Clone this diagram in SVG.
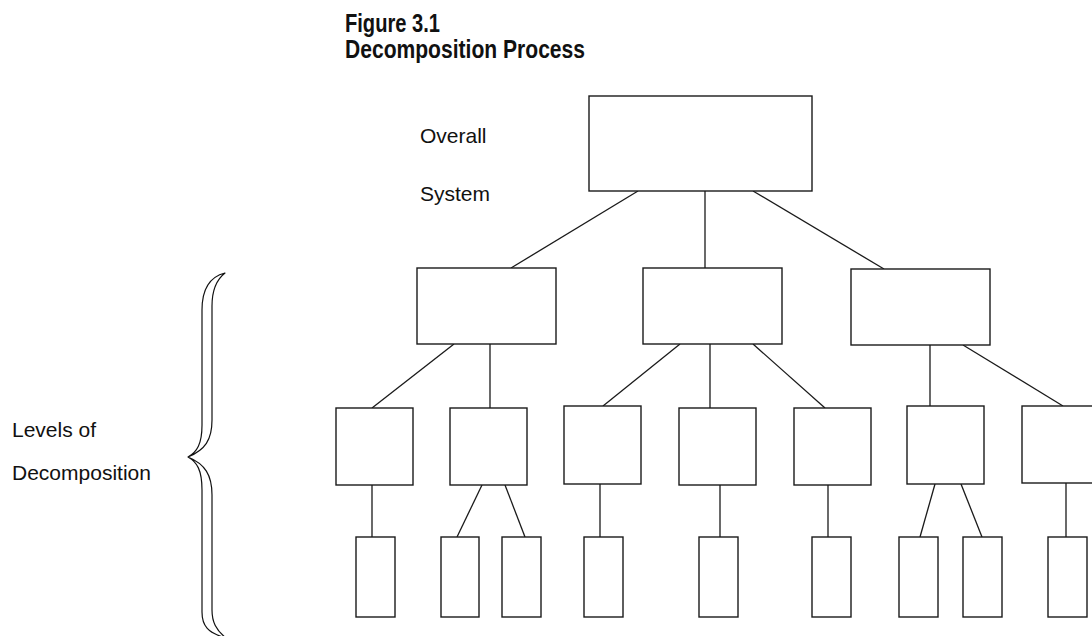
<svg xmlns="http://www.w3.org/2000/svg" width="1092" height="636" viewBox="0 0 1092 636">
  <style>
    .box { fill: #ffffff; stroke: #1a1a1a; stroke-width: 1.4; }
    .link { stroke: #1a1a1a; stroke-width: 1.3; fill: none; }
    .label { font-family: "Liberation Sans", Arial, sans-serif; font-size: 21px; fill: #111111; }
    .title { font-family: "Liberation Sans", Arial, sans-serif; font-size: 25px; font-weight: bold; fill: #111111; }
    .brace { fill: #ffffff; stroke: #111111; stroke-width: 1.2; stroke-linejoin: round; }
  </style>

  <rect width="1092" height="636" fill="#ffffff"/>

  <!-- heading -->
  <g id="heading">
    <text class="title" x="345" y="32" textLength="95" lengthAdjust="spacingAndGlyphs">Figure 3.1</text>
    <text class="title" x="345" y="58" textLength="240" lengthAdjust="spacingAndGlyphs">Decomposition Process</text>
  </g>

  <!-- side labels -->
  <g id="label-overall-system">
    <text class="label" x="420" y="143">Overall</text>
    <text class="label" x="420" y="201">System</text>
  </g>
  <g id="label-levels">
    <text class="label" x="12" y="437">Levels of</text>
    <text class="label" x="12" y="480">Decomposition</text>
  </g>

  <!-- double-outlined curly brace spanning the lower levels -->
  <g id="brace">
    <path class="brace" d="M 225 273
      C 209 277, 202 290, 202 310
      L 202 425
      C 202 444, 197 452, 188 457
      C 197 462, 202 470, 202 490
      L 202 612
      C 202 626, 208 633, 226 638
      C 216 630, 212 622, 212 610
      L 212 495
      C 212 475, 205 464, 188 457
      C 205 450, 212 440, 212 420
      L 212 306
      C 212 290, 216 280, 225 273 Z"/>
  </g>

  <!-- connectors -->
  <g id="connectors">
    <line class="link" x1="638" y1="191" x2="511" y2="268"/>
    <line class="link" x1="705" y1="191" x2="705" y2="268"/>
    <line class="link" x1="753" y1="191" x2="884" y2="269"/>
    <line class="link" x1="454" y1="344" x2="372" y2="408"/>
    <line class="link" x1="490" y1="344" x2="490" y2="408"/>
    <line class="link" x1="680" y1="344" x2="603" y2="406"/>
    <line class="link" x1="710" y1="344" x2="710" y2="408"/>
    <line class="link" x1="753" y1="344" x2="825" y2="408"/>
    <line class="link" x1="930" y1="345" x2="930" y2="406"/>
    <line class="link" x1="963" y1="345" x2="1063" y2="406"/>
    <line class="link" x1="372" y1="485" x2="372" y2="537"/>
    <line class="link" x1="482" y1="485" x2="457" y2="537"/>
    <line class="link" x1="505" y1="485" x2="525" y2="537"/>
    <line class="link" x1="600" y1="484" x2="600" y2="537"/>
    <line class="link" x1="720" y1="485" x2="720" y2="537"/>
    <line class="link" x1="828" y1="485" x2="828" y2="537"/>
    <line class="link" x1="935" y1="484" x2="920" y2="537"/>
    <line class="link" x1="961" y1="484" x2="982" y2="537"/>
    <line class="link" x1="1066" y1="483" x2="1066" y2="537"/>
  </g>

  <!-- level 0 -->
  <g id="node-system"><rect class="box" x="589" y="96" width="223" height="95"/></g>

  <!-- level 1 -->
  <g id="node-1a"><rect class="box" x="417" y="268" width="139" height="76"/></g>
  <g id="node-1b"><rect class="box" x="643" y="268" width="139" height="76"/></g>
  <g id="node-1c"><rect class="box" x="851" y="269" width="139" height="76"/></g>

  <!-- level 2 -->
  <g id="node-2a"><rect class="box" x="336" y="408" width="77" height="77"/></g>
  <g id="node-2b"><rect class="box" x="450" y="408" width="77" height="77"/></g>
  <g id="node-2c"><rect class="box" x="564" y="406" width="77" height="78"/></g>
  <g id="node-2d"><rect class="box" x="679" y="408" width="77" height="77"/></g>
  <g id="node-2e"><rect class="box" x="794" y="408" width="77" height="77"/></g>
  <g id="node-2f"><rect class="box" x="907" y="406" width="77" height="78"/></g>
  <g id="node-2g"><rect class="box" x="1022" y="406" width="77" height="77"/></g>

  <!-- level 3 -->
  <g id="node-3a"><rect class="box" x="356" y="537" width="39" height="80"/></g>
  <g id="node-3b"><rect class="box" x="441" y="537" width="38" height="80"/></g>
  <g id="node-3c"><rect class="box" x="502" y="537" width="39" height="80"/></g>
  <g id="node-3d"><rect class="box" x="584" y="537" width="39" height="80"/></g>
  <g id="node-3e"><rect class="box" x="699" y="537" width="39" height="80"/></g>
  <g id="node-3f"><rect class="box" x="812" y="537" width="39" height="80"/></g>
  <g id="node-3g"><rect class="box" x="899" y="537" width="39" height="80"/></g>
  <g id="node-3h"><rect class="box" x="963" y="537" width="39" height="80"/></g>
  <g id="node-3i"><rect class="box" x="1048" y="537" width="39" height="80"/></g>
</svg>
